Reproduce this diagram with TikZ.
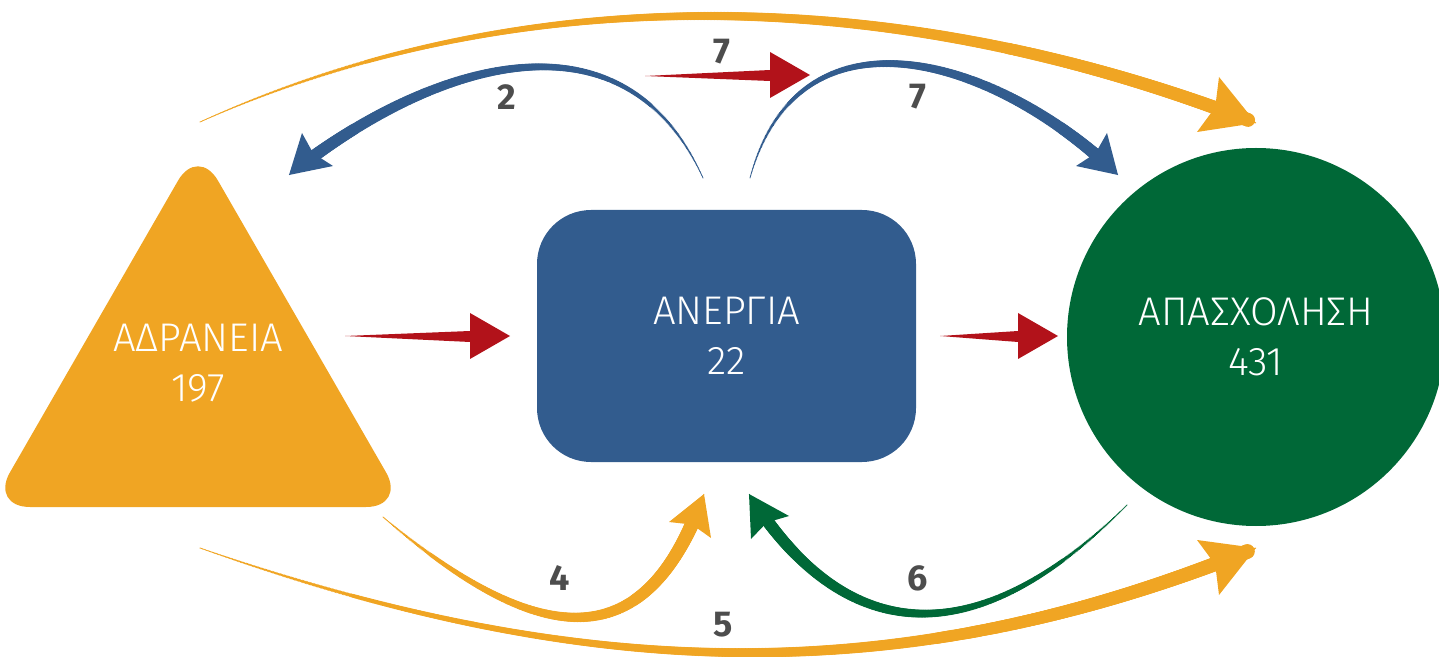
\documentclass[tikz,border=0pt]{standalone}
\usepackage{fontspec}
\setmainfont{Fira Sans}
\newfontfamily\lightfont{Fira Sans Light}
\usetikzlibrary{decorations.markings,calc}
\definecolor{cOr}{RGB}{240,165,35}
\definecolor{cBl}{RGB}{50,92,142}
\definecolor{cGr}{RGB}{0,104,55}
\definecolor{cRd}{RGB}{178,18,26}
\definecolor{cTx}{RGB}{77,77,77}
\tikzset{
  taper/.style n args={3}{% colour, end width px, shaft stop (pt)
    draw=#1, line width=0.3pt,
    postaction={decorate, decoration={markings,
      mark=between positions 0 and -#3 step 0.7pt with {%
        \pgfmathsetmacro\rr{#2*0.25*(0.03+0.97*(\pgfkeysvalueof{/pgf/decoration/mark info/distance from start})/(\pgfdecoratedpathlength))^0.75}%
        \fill[#1] (0,0) circle[radius=\rr pt];}}}
  },
  shapetext/.style={text=white, font=\lightfont\fontsize{20}{25}\selectfont, align=center, inner sep=0pt},
  num/.style={text=cTx, font=\bfseries\fontsize{18}{18}\selectfont, inner sep=0pt},
  redarrow/.style={fill=cRd}
}
\begin{document}
\begin{tikzpicture}[x=0.5pt,y=-0.5pt]
\useasboundingbox (0,0) rectangle (1439,657);
% shapes
\fill[cOr, rounded corners=20pt] (198,146) -- (406,507) -- (-10,507) -- cycle;
\node[shapetext] (adr) at (198,363) {ΑΔΡΑΝΕΙΑ\\197};
\node[shapetext, fill=cBl, rounded corners=27pt, minimum width=189.5pt, minimum height=126pt] (ane) at (726.5,336) {ΑΝΕΡΓΙΑ\\22};
\node[shapetext, fill=cGr, circle, minimum size=189pt] (apa) at (1256,337) {ΑΠΑΣΧΟΛΗΣΗ\\431};
% connector end points
\coordinate (r1s) at (345,336); \coordinate (r1e) at (510,336);
\coordinate (r2s) at (940,336); \coordinate (r2e) at (1058,336);
\coordinate (r3s) at (645,76);  \coordinate (r3e) at (810,75);
\coordinate (a1) at (703,178);  \coordinate (a2) at (289,175);
\coordinate (b1) at (750,178);  \coordinate (b2) at (1118,175);
\coordinate (c1) at (200,122);  \coordinate (c2) at (1256,123);
\coordinate (d1) at (383,517);  \coordinate (d2) at (704,494);
\coordinate (e1) at (200,548);  \coordinate (e2) at (1256,548);
\coordinate (f1) at (1127,505); \coordinate (f2) at (749,494);
% arrowhead corners
\coordinate (ah1) at (302,133);  \coordinate (ah2) at (333,166);
\coordinate (bh1) at (1107,133); \coordinate (bh2) at (1076,166);
\coordinate (ch1) at (1219,77);  \coordinate (ch2) at (1197,132);
\coordinate (dh1) at (669,522);  \coordinate (dh2) at (711,538);
\coordinate (eh1) at (1197,540); \coordinate (eh2) at (1219,595);
\coordinate (fh1) at (789,516);  \coordinate (fh2) at (751,539);
% red straight arrows
\foreach \s/\e in {r1s/r1e, r2s/r2e, r3s/r3e}{
  \fill[redarrow] (\s) -- ($(\e)+(-40,-5)$) -- ($(\e)+(-40,-23)$) -- (\e) -- ($(\e)+(-40,23)$) -- ($(\e)+(-40,6)$) -- cycle;
}
% curved tapered arrows
\path[taper={cBl}{13}{9.5pt}] (a1) .. controls (620,-5) and (420,70) .. (a2);
\path[taper={cBl}{13}{9.5pt}] (b1) .. controls (800,-5) and (1000,60) .. (b2);
\path[taper={cOr}{14}{12pt}] (c1) .. controls (513,-19) and (888,-20) .. (c2);
\path[taper={cOr}{15}{10pt}] (d1) .. controls (543,653) and (647,656) .. (d2);
\path[taper={cOr}{15}{13pt}] (e1) .. controls (580,681) and (896,694) .. (e2);
\path[taper={cGr}{13}{10pt}] (f1) .. controls (977,655) and (845.6,648) .. (f2);
% arrowheads
\foreach \t/\p/\q/\c in {a2/ah1/ah2/cBl, b2/bh1/bh2/cBl, c2/ch1/ch2/cOr, d2/dh1/dh2/cOr, e2/eh1/eh2/cOr, f2/fh1/fh2/cGr}{
  \fill[\c] (\t) -- (\p) -- ($($(\p)!0.5!(\q)$)!0.15!(\t)$) -- (\q) -- cycle;
}
% labels
\node[num] (n2) at (507,97) {2};
\node[num] (n7a) at (722,52) {7};
\node[num] (n7b) at (918,97) {7};
\node[num] (n4) at (560,578) {4};
\node[num] (n5) at (723,625) {5};
\node[num] (n6) at (918,578) {6};
\end{tikzpicture}
\end{document}
